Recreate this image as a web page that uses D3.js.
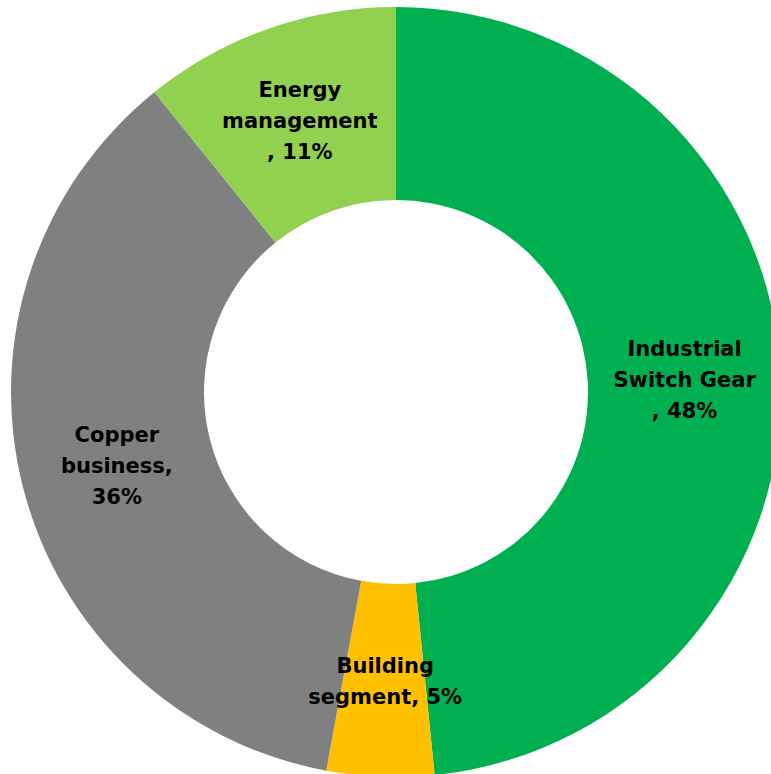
<!DOCTYPE html>
<html>
<head>
<meta charset="utf-8">
<script src="https://cdn.jsdelivr.net/npm/d3@7"></script>
<style>
  body { margin: 0; background: #fff; }
  svg text { font-family: "DejaVu Sans", sans-serif; font-weight: bold; font-size: 21px; fill: #000; }
</style>
</head>
<body>
<svg id="chart" width="771" height="774"></svg>
<script>
var categories = ['Industrial Switch Gear', 'Building segment', 'Copper business', 'Energy management'];
// slice sizes (labels show the rounded numbers)
var values = [48.4, 4.5, 36.3, 10.8];
var colors = ['#00b050', '#ffc000', '#808080', '#92d050'];
// label text as excel wrapped it
var labelLines = [
	['Industrial', 'Switch Gear', ', 48%'],
	['Building', 'segment, 5%'],
	['Copper', 'business,', '36%'],
	['Energy', 'management', ', 11%']
];

var cx = 396, cy = 392, outerR = 385, innerR = 192;

var data = categories.map(function (c, i) {
	return { label: c, value: values[i], color: colors[i], lines: labelLines[i] };
});

var pie = d3.pie().sort(null).value(function (d) { return d.value; });
var arc = d3.arc().innerRadius(innerR).outerRadius(outerR);
var labelArc = d3.arc().innerRadius(289).outerRadius(289);
var arcs = pie(data);

var svg = d3.select('#chart');
var g = svg.append('g').attr('transform', 'translate(' + cx + ',' + cy + ')');

g.append('g').selectAll('path')
	.data(arcs)
	.enter()
	.append('path')
		.attr('d', arc)
		.attr('fill', function (d) { return d.data.color; });

// small tweaks to match where excel put the labels
var nudge = [[0, 2], [1, 0], [1, 3], [0, 1]];
var lineH = 31;

g.append('g').selectAll('text')
	.data(arcs)
	.enter()
	.append('text')
		.attr('text-anchor', 'middle')
		.attr('transform', function (d, i) {
			var c = labelArc.centroid(d);
			return 'translate(' + (c[0] + nudge[i][0]) + ',' + (c[1] + nudge[i][1]) + ')';
		})
		.each(function (d) {
			var t = d3.select(this);
			var n = d.data.lines.length;
			d.data.lines.forEach(function (s, j) {
				t.append('tspan')
					.attr('x', 0)
					.attr('y', (j - (n - 1) / 2) * lineH)
					.attr('dy', '0.35em')
					.text(s);
			});
		});
</script>
</body>
</html>
